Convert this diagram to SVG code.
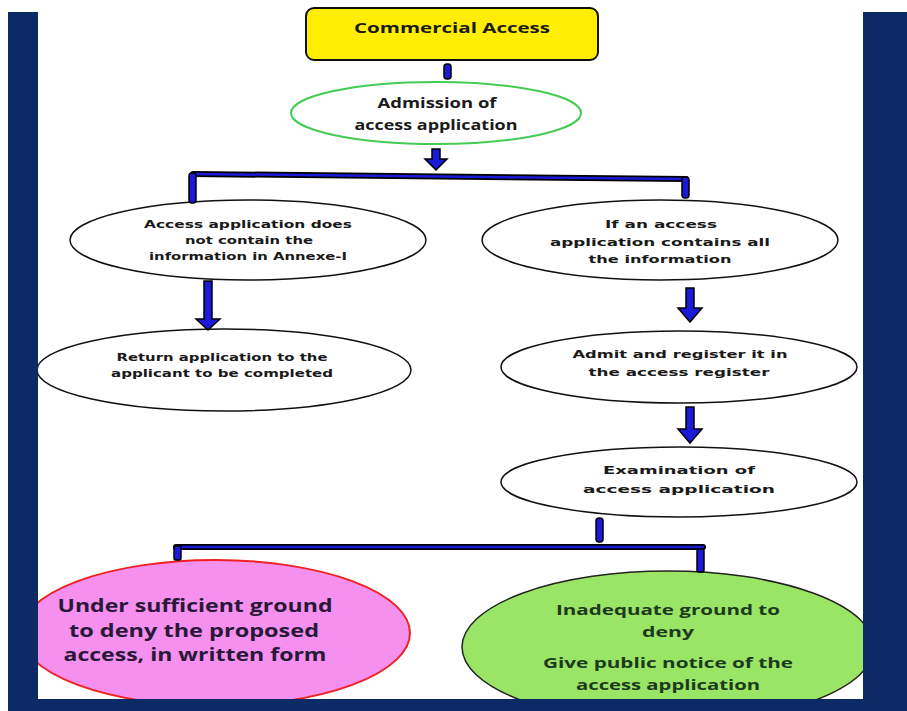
<svg xmlns="http://www.w3.org/2000/svg" width="907" height="711" viewBox="0 0 907 711">
<style>
.frame{fill:#0b2a66}
.wel{fill:#ffffff;stroke:#111;stroke-width:1.5}
.t1{font-family:"DejaVu Sans",Verdana,sans-serif;font-weight:bold;font-size:11px;fill:#1a1a1a;text-anchor:middle}
.t2{font-family:"Open Sans","Noto Sans",sans-serif;font-weight:bold;text-anchor:middle}
.bar{fill:#1a1ad8;stroke:#000;stroke-width:1.5}
.ln{fill:none;stroke:#000;stroke-width:6;stroke-linecap:round}
.lni{fill:none;stroke:#1a1ad8;stroke-width:2.5;stroke-linecap:round}
</style>
<rect x="0" y="0" width="907" height="711" fill="#ffffff"/>
<rect class="frame" x="8" y="12" width="30" height="699"/>
<rect class="frame" x="863" y="12" width="44" height="699"/>

<g id="node-commercial">
<rect x="306" y="8" width="292" height="52" rx="8" fill="#ffee00" stroke="#111" stroke-width="2"/>
<text class="t2" x="452" y="33" font-size="15" fill="#1a1a1a" textLength="196" lengthAdjust="spacingAndGlyphs">Commercial Access</text>
</g>

<g id="node-admission">
<ellipse cx="436" cy="113" rx="145" ry="31" fill="#fff" stroke="#44cc55" stroke-width="2"/>
<text class="t2" x="437" y="108" font-size="14" fill="#1a1a1a" textLength="119" lengthAdjust="spacingAndGlyphs">Admission of</text>
<text class="t2" x="436" y="130" font-size="14" fill="#1a1a1a" textLength="163" lengthAdjust="spacingAndGlyphs">access application</text>
</g>

<g id="node-not-contain">
<ellipse class="wel" cx="248" cy="240" rx="178" ry="40"/>
<text class="t1" x="248" y="228" textLength="208" lengthAdjust="spacingAndGlyphs">Access application does</text>
<text class="t1" x="249" y="244" textLength="128" lengthAdjust="spacingAndGlyphs">not contain the</text>
<text class="t1" x="248" y="260" textLength="198" lengthAdjust="spacingAndGlyphs">information in Annexe-I</text>
</g>

<g id="node-contains-all">
<ellipse class="wel" cx="660" cy="240" rx="178" ry="40"/>
<text class="t1" x="661" y="228" textLength="112" lengthAdjust="spacingAndGlyphs">If an access</text>
<text class="t1" x="660" y="246" textLength="220" lengthAdjust="spacingAndGlyphs">application contains all</text>
<text class="t1" x="660" y="263" textLength="143" lengthAdjust="spacingAndGlyphs">the information</text>
</g>

<g id="node-return">
<ellipse class="wel" cx="224" cy="370" rx="187" ry="41"/>
<text class="t1" x="222" y="361" textLength="211" lengthAdjust="spacingAndGlyphs">Return application to the</text>
<text class="t1" x="222" y="377" textLength="222" lengthAdjust="spacingAndGlyphs">applicant to be completed</text>
</g>

<g id="node-admit">
<ellipse class="wel" cx="679" cy="367" rx="178" ry="36"/>
<text class="t1" x="680" y="358" textLength="215" lengthAdjust="spacingAndGlyphs">Admit and register it in</text>
<text class="t1" x="679" y="376" textLength="181" lengthAdjust="spacingAndGlyphs">the access register</text>
</g>

<g id="node-examination">
<ellipse class="wel" cx="679" cy="482" rx="178" ry="35"/>
<text class="t1" x="679" y="474" textLength="152" lengthAdjust="spacingAndGlyphs">Examination of</text>
<text class="t1" x="679" y="493" textLength="192" lengthAdjust="spacingAndGlyphs">access application</text>
</g>

<g id="node-deny">
<ellipse cx="215" cy="633" rx="195" ry="73" fill="#f590ee" stroke="#ee2222" stroke-width="2"/>
<text class="t2" x="195" y="612" font-size="18" fill="#2a1838" textLength="275" lengthAdjust="spacingAndGlyphs">Under sufficient ground</text>
<text class="t2" x="194" y="637" font-size="18" fill="#2a1838" textLength="250" lengthAdjust="spacingAndGlyphs">to deny the proposed</text>
<text class="t2" x="195" y="661" font-size="18" fill="#2a1838" textLength="263" lengthAdjust="spacingAndGlyphs">access, in written form</text>
</g>

<g id="node-inadequate">
<ellipse cx="668" cy="647" rx="206" ry="76" fill="#9be566" stroke="#222" stroke-width="1.5"/>
<text class="t2" x="668" y="615" font-size="15" fill="#1c3a1c" textLength="224" lengthAdjust="spacingAndGlyphs">Inadequate ground to</text>
<text class="t2" x="668" y="637" font-size="15" fill="#1c3a1c" textLength="52" lengthAdjust="spacingAndGlyphs">deny</text>
<text class="t2" x="668" y="668" font-size="15" fill="#1c3a1c" textLength="250" lengthAdjust="spacingAndGlyphs">Give public notice of the</text>
<text class="t2" x="668" y="690" font-size="15" fill="#1c3a1c" textLength="184" lengthAdjust="spacingAndGlyphs">access application</text>
</g>

<g id="connectors">
<rect class="bar" x="444" y="64" width="7" height="15" rx="3"/>
<polygon class="bar" points="432,149 440,149 440,159 447,159 436,170 425,159 432,159"/>
<path class="ln" d="M193,174 L686,179"/>
<path class="lni" d="M193,174 L686,179"/>
<rect class="bar" x="189" y="173" width="7" height="30" rx="3"/>
<rect class="bar" x="682" y="177" width="7" height="21" rx="3"/>
<polygon class="bar" points="204,281 212,281 212,319 220,319 208,330 196,319 204,319"/>
<polygon class="bar" points="686,288 694,288 694,308 702,308 690,322 678,308 686,308"/>
<polygon class="bar" points="686,407 694,407 694,429 702,429 690,443 678,429 686,429"/>
<rect class="bar" x="596" y="518" width="7" height="24" rx="3"/>
<path class="ln" d="M176,547 L703,547"/>
<path class="lni" d="M176,547 L703,547"/>
<rect class="bar" x="174" y="546" width="7" height="14" rx="2"/>
<rect class="bar" x="697" y="549" width="7" height="23" rx="2"/>
</g>

<rect class="frame" x="8" y="699" width="899" height="12"/>
<rect class="frame" x="8" y="12" width="30" height="699"/>
<rect class="frame" x="863" y="12" width="44" height="699"/>
</svg>
